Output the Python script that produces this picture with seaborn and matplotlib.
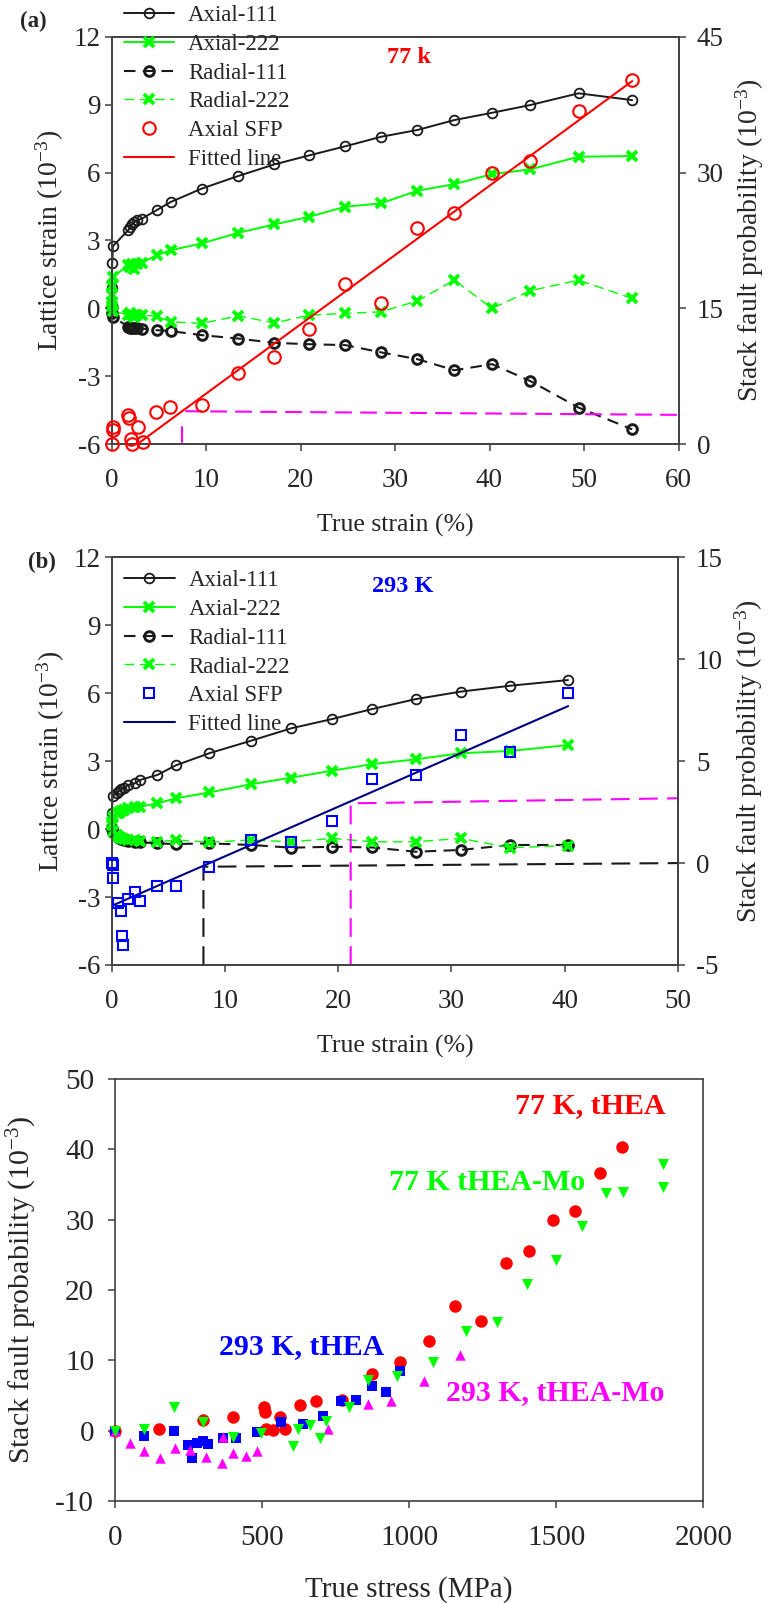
import matplotlib
matplotlib.use("Agg")
import matplotlib.pyplot as plt
from matplotlib.lines import Line2D
import seaborn as sns

sns.set_theme(style="ticks")
plt.rcParams["font.family"] = ["Liberation Serif", "DejaVu Serif"]
plt.rcParams["mathtext.fontset"] = "custom"
plt.rcParams["mathtext.rm"] = "Liberation Serif"
plt.rcParams["mathtext.it"] = "Liberation Serif:italic"
plt.rcParams["mathtext.bf"] = "Liberation Serif:bold"
plt.rcParams["axes.unicode_minus"] = False

GREEN = "#00ff00"
RED = "#ff0000"
MAGENTA = "#ff00ff"
BLUE = "#0000ff"
NAVY = "#000080"
FRAME = "#404040"

# ---- panel (a), 77 K ----
strain_a = [0.0, 0.08, 0.15, 1.78, 1.96, 2.2, 2.42, 2.73, 3.19, 4.78, 6.26, 9.54,
            13.42, 17.23, 20.93, 24.74, 28.52, 32.37, 36.29, 40.27, 44.29, 49.43, 55.1]
axial111_a = [0.9, 2.0, 2.75, 3.46, 3.58, 3.71, 3.81, 3.9, 3.96, 4.34, 4.7, 5.29,
              5.85, 6.36, 6.76, 7.16, 7.58, 7.88, 8.32, 8.64, 8.98, 9.5, 9.2]
axial222_a = [0.6, 1.0, 1.4, 1.91, 1.81, 1.98, 1.76, 1.98, 2.01, 2.35, 2.57, 2.87,
              3.34, 3.71, 4.05, 4.49, 4.64, 5.2, 5.49, 5.93, 6.14, 6.7, 6.73]
radial111_a = [0.07, -0.22, -0.37, -0.81, -0.86, -0.86, -0.86, -0.86, -0.89, -0.96, -1.0, -1.18,
               -1.33, -1.52, -1.58, -1.62, -1.94, -2.24, -2.73, -2.46, -3.2, -4.38, -5.34]
radial222_a = [0.3, 0.1, -0.1, -0.3, -0.22, -0.3, -0.37, -0.3, -0.3, -0.34, -0.59, -0.66,
               -0.33, -0.64, -0.3, -0.22, -0.15, 0.33, 1.25, 0.0, 0.78, 1.25, 0.44]
sfp_a_x = [0.02, 0.12, 0.12, 1.78, 1.89, 2.03, 2.2, 2.84, 3.3, 4.71, 6.19, 9.54,
           13.42, 17.23, 20.93, 24.74, 28.52, 32.37, 36.29, 40.27, 44.29, 49.43, 55.1]
sfp_a_y = [0.0, 1.58, 1.95, 3.24, 2.87, 0.55, 0.0, 1.88, 0.29, 3.6, 4.16, 4.34,
           7.84, 9.68, 12.73, 17.7, 15.64, 23.85, 25.58, 29.92, 31.28, 36.8, 40.2]
fit_a_x = [2.7, 55.1]
fit_a_y = [0.0, 40.1]
guide_a_hx = [7.8, 60.0]
guide_a_hy = [3.65, 3.25]
guide_a_vx = [7.45, 7.45]
guide_a_vy = [0.3, 1.95]

# ---- panel (b), 293 K ----
strain_b = [0.0, 0.09, 0.44, 0.68, 0.82, 1.09, 1.47, 2.06, 2.5, 4.03, 5.68, 8.62,
            12.29, 15.85, 19.47, 22.99, 26.85, 30.82, 35.2, 40.29]
axial111_b = [0.7, 1.48, 1.6, 1.7, 1.76, 1.8, 1.95, 2.02, 2.17, 2.39, 2.82, 3.35,
              3.9, 4.45, 4.86, 5.3, 5.74, 6.07, 6.33, 6.58]
axial222_b = [0.3, 0.55, 0.7, 0.73, 0.8, 0.84, 0.92, 0.96, 0.99, 1.14, 1.36, 1.62,
              1.98, 2.27, 2.58, 2.87, 3.08, 3.35, 3.45, 3.71]
radial111_b = [0.0, -0.15, -0.3, -0.41, -0.45, -0.48, -0.53, -0.56, -0.58, -0.63, -0.66, -0.63,
               -0.7, -0.82, -0.78, -0.81, -1.0, -0.92, -0.7, -0.7]
radial222_b = [0.2, -0.1, -0.25, -0.35, -0.4, -0.45, -0.48, -0.5, -0.52, -0.56, -0.48, -0.58,
               -0.48, -0.56, -0.41, -0.56, -0.56, -0.41, -0.82, -0.73]
sfp_b_x = [0.0, 0.15, 0.09, 0.59, 0.82, 1.47, 2.06, 2.5, 0.94, 1.03, 4.03, 5.68,
           8.62, 12.29, 15.85, 19.47, 22.99, 26.85, 30.82, 35.2, 40.29]
sfp_b_y = [0.0, -0.09, -0.75, -1.94, -2.33, -1.78, -1.4, -1.86, -3.58, -4.02, -1.12, -1.12,
           -0.18, 1.13, 1.03, 2.08, 4.14, 4.32, 6.28, 5.43, 8.36]
fit_b_x = [0.0, 40.3]
fit_b_y = [-2.1, 7.7]
guide_b_kx = [8.1, 8.1, 50.0]
guide_b_ky = [-5.0, -0.18, 0.0]
guide_b_mx = [21.1, 21.1, 50.0]
guide_b_my = [-5.0, 2.93, 3.18]

# ---- panel (c), SFP vs true stress ----
thea77_x = [0, 150, 300, 400, 506, 510, 515, 538, 561, 578, 629, 682, 773, 875, 970,
            1067, 1156, 1243, 1328, 1408, 1490, 1565, 1648, 1724]
thea77_y = [0, 0.2, 1.5, 2.0, 3.3, 2.7, 0.3, 0.1, 2.0, 0.2, 3.65, 4.2, 4.4, 8.0, 9.7,
            12.75, 17.7, 15.6, 23.9, 25.6, 30.0, 31.3, 36.7, 40.3]
mo77_x = [0, 100, 200, 300, 400, 498, 606, 623, 663, 697, 717, 796, 859, 960,
          1082, 1193, 1300, 1399, 1499, 1587, 1669, 1728, 1862, 1862]
mo77_y = [-0.1, 0.3, 3.3, 1.3, -0.85, -0.4, -2.2, 0.3, 0.8, -1.1, 1.4, 3.3, 7.2, 7.8,
          9.7, 14.1, 15.5, 20.8, 24.2, 29.1, 33.8, 34.0, 37.9, 34.7]
thea293_x = [0, 100, 200, 249, 261, 278, 300, 317, 366, 411, 482, 564, 640, 708, 767,
             821, 875, 921, 970]
thea293_y = [0, -0.7, -0.05, -2.0, -3.9, -1.8, -1.4, -1.9, -1.1, -1.1, -0.15, 1.3, 1.0,
             2.1, 4.2, 4.4, 6.35, 5.55, 8.5]
mo293_x = [0, 51, 100, 153, 204, 255, 308, 363, 366, 400, 445, 482, 723, 861, 937,
           1052, 1173]
mo293_y = [0, -1.7, -2.9, -3.9, -2.5, -2.75, -3.7, -4.55, -0.95, -3.13, -3.6, -2.84,
           0.2, 3.75, 4.2, 7.05, 10.75]

legend_labels = ["Axial-111", "Axial-222", "Radial-111", "Radial-222", "Axial SFP", "Fitted line"]

W, H = 769, 1603
fig = plt.figure(figsize=(W / 100, H / 100), dpi=100)


def frame(ax):
    for s in ax.spines.values():
        s.set_color(FRAME)
        s.set_linewidth(1.2)
    ax.tick_params(direction="out", length=5, width=1.1, color=FRAME)
    ax.grid(False)


def strain_panel(rect, strain, a111, a222, r111, r222, sx, sy, fx, fy,
                 sfp_color, sfp_marker, sfp_ms, fit_color, xmax, y2lim, y2ticks,
                 leg_y):
    ax = fig.add_axes(rect)
    ax2 = ax.twinx()
    common = dict(ax=ax, estimator=None, sort=False, clip_on=False, legend=False)
    sns.lineplot(x=strain, y=a111, color="k", lw=1.4, marker="o", ms=7,
                 mfc="none", mec="k", mew=1.3, zorder=4, **common)
    sns.lineplot(x=strain, y=a222, color=GREEN, lw=1.4, marker="x", ms=7.5,
                 mec=GREEN, mew=2.8, zorder=4, **common)
    sns.lineplot(x=strain, y=r111, color="k", lw=1.5, dashes=(5.5, 3.5), marker="o",
                 ms=7, mfc="none", mec="k", mew=2.1, zorder=4, **common)
    sns.lineplot(x=strain, y=r222, color=GREEN, lw=1.0, dashes=(7, 4), marker="x",
                 ms=7.5, mec=GREEN, mew=2.8, zorder=5, **common)
    sns.lineplot(x=sx, y=sy, ax=ax2, estimator=None, sort=False, clip_on=False,
                 legend=False, linestyle="none", marker=sfp_marker, ms=sfp_ms,
                 mfc="none", mec=sfp_color, mew=1.5, zorder=3)
    sns.lineplot(x=fx, y=fy, ax=ax2, estimator=None, sort=False, legend=False,
                 color=fit_color, lw=1.5, zorder=2)

    ax.set_xlim(0, xmax)
    ax.set_xticks(range(0, xmax + 1, 10))
    ax.set_ylim(-6, 12)
    ax.set_yticks(range(-6, 13, 3))
    ax2.set_ylim(*y2lim)
    ax2.set_yticks(y2ticks)
    for a in (ax, ax2):
        frame(a)
    ax.tick_params(axis="x", labelsize=19.5, pad=12)
    ax.tick_params(axis="y", labelsize=19.5, pad=3)
    ax2.tick_params(axis="y", labelsize=19.5, pad=8)
    ax.set_xlabel("True strain (%)", fontsize=18.5, labelpad=15)
    ax.set_ylabel("Lattice strain (10$^{-3}$)", fontsize=20, labelpad=5)
    ax2.set_ylabel("Stack fault probability (10$^{-3}$)", fontsize=20, labelpad=7)

    handles = [
        Line2D([], [], color="k", lw=1.4, marker="o", ms=7, mfc="none", mec="k", mew=1.3),
        Line2D([], [], color=GREEN, lw=1.4, marker="x", ms=7.5, mec=GREEN, mew=2.8),
        Line2D([], [], color="k", lw=1.5, dashes=(5.5, 3.5), marker="o", ms=7,
               mfc="none", mec="k", mew=2.1),
        Line2D([], [], color=GREEN, lw=1.0, dashes=(7, 4), marker="x", ms=7.5,
               mec=GREEN, mew=2.8),
        Line2D([], [], ls="none", marker=sfp_marker, ms=sfp_ms, mfc="none",
               mec=sfp_color, mew=1.5),
        Line2D([], [], color=fit_color, lw=1.5),
    ]
    ax2.legend(handles, legend_labels, loc="upper left", bbox_to_anchor=(0.012, leg_y),
               frameon=False, fontsize=16.5, handlelength=2.2, handletextpad=0.6,
               labelspacing=0.34, borderaxespad=0, borderpad=0.25, numpoints=1)
    return ax, ax2


# panel (a)
ax_a, ax_a2 = strain_panel([111.5 / W, (H - 444.3) / H, 567 / W, 407.6 / H],
                           strain_a, axial111_a, axial222_a, radial111_a, radial222_a,
                           sfp_a_x, sfp_a_y, fit_a_x, fit_a_y, RED, "o", 9, RED,
                           60, (0, 45), [0, 15, 30, 45], 1.092)
sns.lineplot(x=guide_a_hx, y=guide_a_hy, ax=ax_a2, estimator=None, sort=False,
             legend=False, color=MAGENTA, lw=1.5, dashes=(8, 4), zorder=1)
sns.lineplot(x=guide_a_vx, y=guide_a_vy, ax=ax_a2, estimator=None, sort=False,
             legend=False, color=MAGENTA, lw=1.5, zorder=1)
ax_a.text(31.5, 11.1, "77 k", color=RED, fontsize=17.5, fontweight="bold",
          ha="center", va="center")
fig.text(33 / W, 1 - 21 / H, "(a)", fontsize=16.5, fontweight="bold", ha="center", va="center")

# panel (b)
ax_b, ax_b2 = strain_panel([111.7 / W, (H - 965) / H, 566.3 / W, 407.7 / H],
                           strain_b, axial111_b, axial222_b, radial111_b, radial222_b,
                           sfp_b_x, sfp_b_y, fit_b_x, fit_b_y, BLUE, "s", 6.5, NAVY,
                           50, (-5, 15), [-5, 0, 5, 10, 15], 0.983)
sns.lineplot(x=guide_b_kx, y=guide_b_ky, ax=ax_b2, estimator=None, sort=False,
             legend=False, color="k", lw=1.5, dashes=(9, 4.5), zorder=1)
sns.lineplot(x=guide_b_mx, y=guide_b_my, ax=ax_b2, estimator=None, sort=False,
             legend=False, color=MAGENTA, lw=1.5, dashes=(9, 4.5), zorder=1)
ax_b.text(25.7, 10.73, "293 K", color=BLUE, fontsize=17.5, fontweight="bold",
          ha="center", va="center")
fig.text(42 / W, 1 - 562 / H, "(b)", fontsize=16.5, fontweight="bold", ha="center", va="center")

# panel (c)
ax_c = fig.add_axes([115 / W, (H - 1501) / H, 588.3 / W, 422 / H])
sns.scatterplot(x=thea77_x, y=thea77_y, ax=ax_c, color=RED, marker="o", s=9 ** 2,
                linewidth=0, clip_on=False, zorder=3)
sns.scatterplot(x=thea293_x, y=thea293_y, ax=ax_c, color=BLUE, marker="s", s=6.5 ** 2,
                linewidth=0, clip_on=False, zorder=4)
sns.scatterplot(x=mo293_x, y=mo293_y, ax=ax_c, color=MAGENTA, marker="^", s=7.5 ** 2,
                linewidth=0, clip_on=False, zorder=5)
sns.scatterplot(x=mo77_x, y=mo77_y, ax=ax_c, color=GREEN, marker="v", s=8 ** 2,
                linewidth=0, clip_on=False, zorder=6)
ax_c.set_xlim(0, 2000)
ax_c.set_xticks([0, 500, 1000, 1500, 2000])
ax_c.set_ylim(-10, 50)
ax_c.set_yticks(range(-10, 51, 10))
frame(ax_c)
ax_c.tick_params(labelsize=21)
ax_c.tick_params(axis="x", pad=12)
ax_c.tick_params(axis="y", pad=10)
ax_c.set_xlabel("True stress (MPa)", fontsize=21, labelpad=18)
ax_c.set_ylabel("Stack fault probability (10$^{-3}$)", fontsize=21.5, labelpad=12)
ann_font = dict(fontsize=21.5, fontweight="bold", ha="center", va="center")
ax_c.text(1616, 46.2, "77 K, tHEA", color=RED, **ann_font)
ax_c.text(1264, 35.3, "77 K tHEA-Mo", color=GREEN, **ann_font)
ax_c.text(634, 12.0, "293 K, tHEA", color=BLUE, **ann_font)
ax_c.text(1496, 5.4, "293 K, tHEA-Mo", color=MAGENTA, **ann_font)

fig.savefig("out.png", dpi=100)
